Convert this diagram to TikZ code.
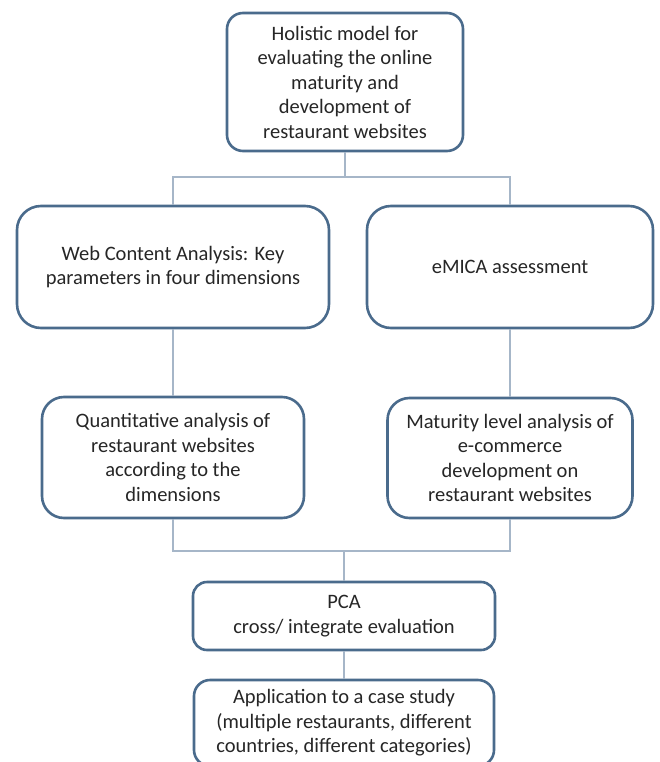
\documentclass[tikz,border=0pt]{standalone}
\usepackage{fontspec}
\setmainfont{Carlito}
\definecolor{boxline}{HTML}{4A6B8C}
\definecolor{conline}{HTML}{A6B6C8}
\definecolor{txt}{HTML}{262626}
\begin{document}
\begin{tikzpicture}[x=1pt,y=-1pt,
  box/.style={draw=boxline, line width=2.6pt, fill=white, rounded corners=16pt,
    align=center, inner sep=0pt, text=txt, font=\fontsize{20.5}{24.5}\selectfont},
  con/.style={draw=conline, line width=1.8pt}]
\useasboundingbox (0,0) rectangle (659,762);
\clip (0,0) rectangle (659,762);
\fill[white] (0,0) rectangle (659,762);
\node[box, minimum width=236pt, minimum height=138pt] (top) at (345,82)
  {Holistic model for\\evaluating the online\\maturity and\\development of\\restaurant websites};
\node[box, minimum width=312pt, minimum height=122pt, rounded corners=24pt] (wca) at (173,267)
  {Web Content Analysis: Key\\parameters in four dimensions};
\node[box, minimum width=286pt, minimum height=122pt, rounded corners=24pt] (emica) at (510,267)
  {eMICA assessment};
\node[box, minimum width=262pt, minimum height=121pt, rounded corners=22pt] (quant) at (173,457.5)
  {Quantitative analysis of\\restaurant websites\\according to the\\dimensions};
\node[box, minimum width=245pt, minimum height=120pt, rounded corners=22pt] (matur) at (510,458)
  {Maturity level analysis of\\e-commerce\\development on\\restaurant websites};
\node[box, minimum width=302pt, minimum height=68pt, rounded corners=14pt] (pca) at (344,616)
  {PCA\\cross/ integrate evaluation};
\node[box, minimum width=300pt, minimum height=86pt, rounded corners=16pt] (case) at (344,723)
  {Application to a case study\\(multiple restaurants, different\\countries, different categories)};
\coordinate (j1) at (345,177);
\coordinate (j2) at (344,551);
\draw[con] (top.south) -- (j1);
\draw[con] (j1) -| (wca.north);
\draw[con] (j1) -| (emica.north);
\draw[con] (wca.south) -- (quant.north);
\draw[con] (emica.south) -- (matur.north);
\draw[con] (quant.south) |- (j2);
\draw[con] (matur.south) |- (j2);
\draw[con] (j2) -- (pca.north);
\draw[con] (pca.south) -- (case.north);
\end{tikzpicture}
\end{document}
